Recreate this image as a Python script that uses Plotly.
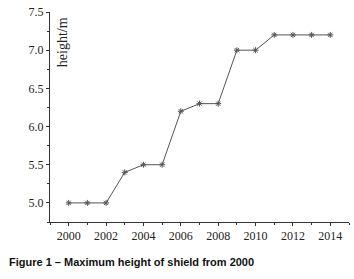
import plotly.graph_objects as go

years = [2000, 2001, 2002, 2003, 2004, 2005, 2006, 2007, 2008, 2009, 2010, 2011, 2012, 2013, 2014]
heights = [5.0, 5.0, 5.0, 5.4, 5.5, 5.5, 6.2, 6.3, 6.3, 7.0, 7.0, 7.2, 7.2, 7.2, 7.2]
x_ticks = [2000, 2002, 2004, 2006, 2008, 2010, 2012, 2014]
y_ticks = [5.0, 5.5, 6.0, 6.5, 7.0, 7.5]
y_title = "height/m"
caption = "<b>Figure 1 – Maximum height of shield from 2000</b>"

fig = go.Figure()
fig.add_trace(go.Scatter(
    x=years, y=heights, mode="lines+markers",
    line=dict(color="#555555", width=1),
    marker=dict(symbol="asterisk-open", size=5, color="#555555",
                line=dict(width=1, color="#555555")),
    showlegend=False,
))

serif = "Liberation Serif"
tickfont = dict(family=serif, size=12, color="#222222")
fig.update_layout(
    width=354, height=279,
    margin=dict(l=50, r=5, t=10, b=57),
    paper_bgcolor="white", plot_bgcolor="white",
    xaxis=dict(range=[1999, 2015], tickvals=x_ticks, ticktext=[str(v) for v in x_ticks],
               showgrid=False, zeroline=False, showline=True, linecolor="#333333", linewidth=1,
               ticks="outside", ticklen=3, tickcolor="#333333", tickfont=tickfont,
               minor=dict(dtick=1, tick0=1999, ticks="outside", ticklen=2, tickcolor="#333333")),
    yaxis=dict(range=[4.75, 7.5], tickvals=y_ticks, ticktext=[f"{v:.1f}" for v in y_ticks],
               showgrid=False, zeroline=False, showline=True, linecolor="#333333", linewidth=1,
               ticks="outside", ticklen=3, tickcolor="#333333", tickfont=tickfont,
               minor=dict(dtick=0.25, tick0=4.75, ticks="outside", ticklen=2, tickcolor="#333333")),
    annotations=[
        dict(text=y_title, textangle=-90, xref="paper", yref="paper",
             x=12/299, y=0.985, xanchor="center", yanchor="top", showarrow=False,
             font=dict(family=serif, size=14, color="#222222")),
        dict(text=caption, xref="paper", yref="paper",
             x=-43/299, y=-40/212, xanchor="left", yanchor="middle", showarrow=False,
             font=dict(family="Liberation Sans Narrow, Liberation Sans, Arial, sans-serif", size=11, color="#111111")),
    ],
)

fig.write_html("out.html", config={"displayModeBar": False},
               post_script="document.body.style.margin='0';document.body.style.overflow='hidden';")
